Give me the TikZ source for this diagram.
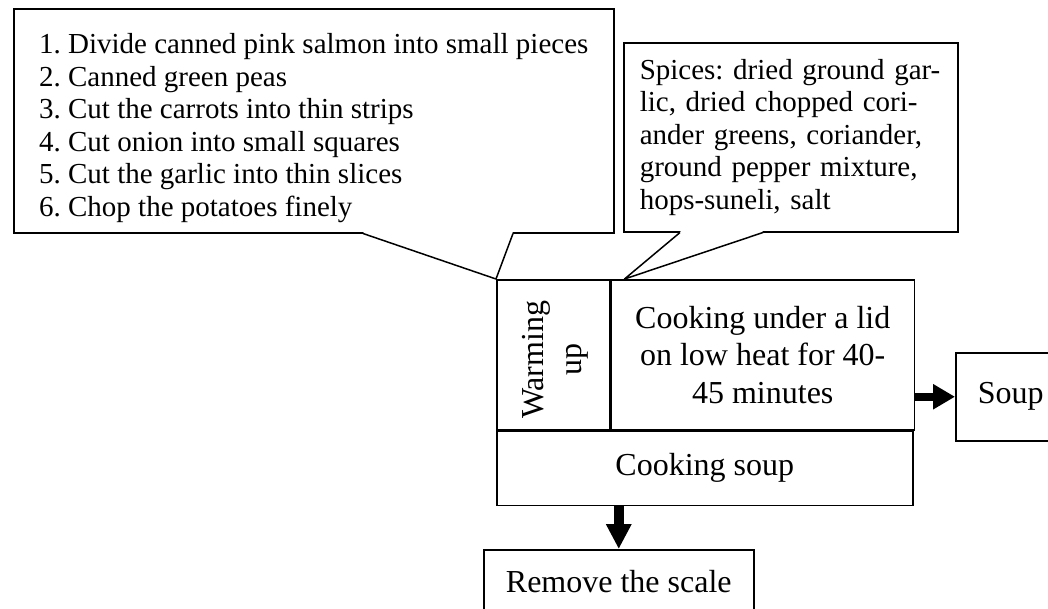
\documentclass[tikz,border=0pt]{standalone}
\usepackage{fontspec}
\setmainfont{Liberation Serif}
\usetikzlibrary{arrows.meta,calc,positioning}
\tikzset{cell/.style={draw, line width=1.5pt, align=center, inner sep=0pt},
  note/.style={draw, line width=1.5pt, fill=white, align=left, anchor=north west,
    font=\fontsize{29}{32.5}\selectfont},
  flow/.style={-{Triangle[length=22pt,width=24pt]}, line width=8pt}}
\frenchspacing

\begin{document}
\begin{tikzpicture}[x=1pt, y=-1pt, font=\fontsize{32}{37.5}\selectfont]
  \useasboundingbox (0,0) rectangle (1048,608);
  % cooking block
  \node[cell, minimum width=113pt, minimum height=150pt, anchor=north west] (warm) at (496,279) {};
  \node[rotate=90, align=center] (warmtxt) at ($(warm.center)+(2,5)$) {Warming\\up};
  \node[cell, minimum width=303pt, minimum height=150pt, anchor=north west] (cook) at (warm.north east) {Cooking under a lid\\on low heat for 40-\\45 minutes};
  \node[cell, minimum width=416pt, minimum height=74pt, anchor=north west] (boil) at (warm.south west) {Cooking soup};
  % results
  \node[cell, minimum width=110pt, minimum height=88pt, anchor=north west] (soup) at (955,352) {Soup};
  \node[cell, minimum width=270pt, minimum height=64pt, anchor=north west] (scale) at (483,549) {Remove the scale};
  \draw[flow] (cook.east |- soup.west) -- (soup.west);
  \draw[flow, line width=10pt, -{Triangle[length=25pt,width=24pt]}] (scale.north |- boil.south) -- (scale.north);
  % ingredients callout
  \node[note, minimum width=600pt, minimum height=224pt, inner xsep=20pt] (steps) at (13,8)
    {\rule{0pt}{35pt}1. Divide canned pink salmon into small pieces\\2. Canned green peas\\3. Cut the carrots into thin strips\\4. Cut onion into small squares\\5. Cut the garlic into thin slices\\6. Chop the potatoes finely};
  \coordinate (a1) at ($(steps.south west)+(350,0)$);
  \coordinate (b1) at ($(steps.south west)+(500,0)$);
  \fill[white] ($(a1)+(1,-2)$) -- ($(b1)+(-1,-2)$) -- (b1) -- (warm.north west) -- (a1) -- cycle;
  \draw[line width=1.5pt, line join=round] (a1) -- (warm.north west) -- (b1);
  % spices callout
  \node[note, minimum width=334pt, minimum height=189pt, inner xsep=16pt, text width=302pt] (spice) at (623,42)
    {Spices: dried ground gar-\\lic, dried chopped cori-\\ander greens, coriander,\\ground pepper mixture,\\hops-suneli, salt};
  \coordinate (tip2) at ($(cook.north west)+(14,0)$);
  \coordinate (a2) at ($(spice.south west)+(57,0)$);
  \coordinate (b2) at ($(spice.south west)+(140,0)$);
  \fill[white] ($(a2)+(1,-2)$) -- ($(b2)+(-1,-2)$) -- (b2) -- (tip2) -- (a2) -- cycle;
  \draw[line width=1.5pt, line join=round] (a2) -- (tip2) -- (b2);
\end{tikzpicture}
\end{document}
